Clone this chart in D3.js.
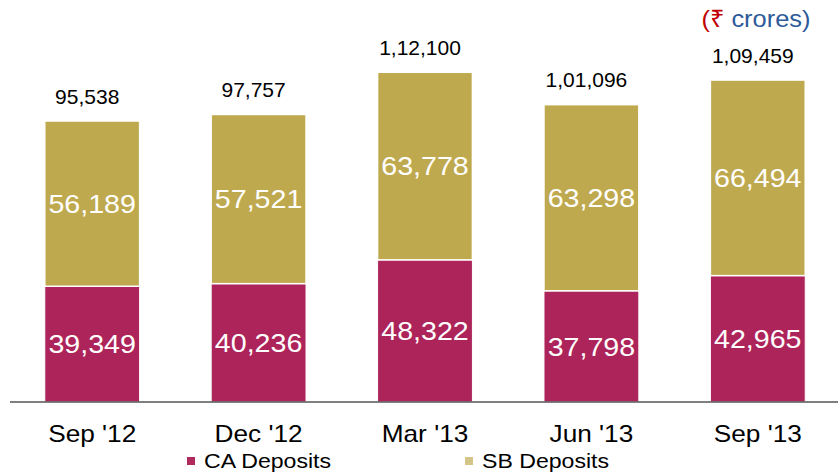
<!DOCTYPE html>
<html>
<head>
<script src="https://d3js.org/d3.v7.min.js"></script>
<style>
  body, html { margin: 0; background: #fff; }
  text { font-family: "Liberation Sans", Arial, sans-serif; }
</style>
</head>
<body>
<div id="chart"></div>
<script>
var categories = ["Sep '12", "Dec '12", "Mar '13", "Jun '13", "Sep '13"];
var caDeposits = [39349, 40236, 48322, 37798, 42965];
var sbDeposits = [56189, 57521, 63778, 63298, 66494];
var totals = ["95,538", "97,757", "1,12,100", "1,01,096", "1,09,459"];

var width = 838, height = 476;
var baseY = 402;

var svg = d3.select("#chart").append("svg")
  .attr("width", width)
  .attr("height", height);

var x = d3.scaleBand()
  .domain(categories)
  .range([9, 841])
  .paddingInner(0.43)
  .paddingOuter(0.215);

var y = d3.scaleLinear()
  .domain([0, 95538])
  .range([baseY, 121]);

var fmt = d3.format(",");

var rows = categories.map(function(c, i) {
  return { cat: c, ca: caDeposits[i], sb: sbDeposits[i], total: totals[i] };
});

// text in the original is a bit wider than plain Arial, so stretch it a little
function place(px, py, sx) {
  return "translate(" + px + "," + py + ") scale(" + sx + ",1)";
}

// CA segment
svg.append("g").selectAll("rect")
  .data(rows).enter().append("rect")
    .attr("x", d => x(d.cat))
    .attr("y", d => y(d.ca))
    .attr("width", x.bandwidth())
    .attr("height", d => baseY - y(d.ca))
    .attr("fill", "#ad245a")
    .attr("stroke", "#fff")
    .attr("stroke-width", 1);

// SB segment
svg.append("g").selectAll("rect")
  .data(rows).enter().append("rect")
    .attr("x", d => x(d.cat))
    .attr("y", d => y(d.ca + d.sb))
    .attr("width", x.bandwidth())
    .attr("height", d => y(d.ca) - y(d.ca + d.sb))
    .attr("fill", "#bfa94f")
    .attr("stroke", "#fff")
    .attr("stroke-width", 1.5);

// segment labels
svg.append("g").selectAll("text")
  .data(rows).enter().append("text")
    .attr("transform", d => place(x(d.cat) + x.bandwidth() / 2, (y(d.ca) + baseY) / 2, 1.1))
    .attr("dy", "0.36em")
    .attr("text-anchor", "middle")
    .attr("fill", "#fff")
    .style("font-size", "26px")
    .text(d => fmt(d.ca));

svg.append("g").selectAll("text")
  .data(rows).enter().append("text")
    .attr("transform", d => place(x(d.cat) + x.bandwidth() / 2, (y(d.ca) + y(d.ca + d.sb)) / 2, 1.1))
    .attr("dy", "0.36em")
    .attr("text-anchor", "middle")
    .attr("fill", "#fff")
    .style("font-size", "26px")
    .text(d => fmt(d.sb));

// totals
svg.append("g").selectAll("text")
  .data(rows).enter().append("text")
    .attr("x", d => x(d.cat) + x.bandwidth() / 2 - 5)
    .attr("y", d => y(d.ca + d.sb) - 25)
    .attr("dy", "0.36em")
    .attr("text-anchor", "middle")
    .attr("fill", "#000")
    .style("font-size", "21px")
    .text(d => d.total);

// axis
var axis = svg.append("g")
  .attr("transform", "translate(0," + baseY + ")")
  .call(d3.axisBottom(x).tickSize(0).tickPadding(0));
axis.select(".domain").remove();
axis.append("line")
  .attr("x1", 10).attr("x2", 838)
  .attr("stroke", "#555").attr("stroke-width", 1.5);
axis.selectAll(".tick text")
  .attr("y", null).attr("dy", null)
  .attr("transform", place(0, 40, 1.14))
  .attr("fill", "#000")
  .style("font-size", "23px")
  .style("font-family", "'Liberation Sans', Arial, sans-serif");

// unit label
var unit = svg.append("text")
  .attr("transform", place(756, 27, 1.06))
  .attr("text-anchor", "middle")
  .style("font-size", "24px");
unit.append("tspan").attr("fill", "#c00000").text("(\u20b9 ");
unit.append("tspan").attr("fill", "#2e5a9a").text("crores");
unit.append("tspan").attr("fill", "#2e5a9a").text(")");

// legend
var legendItems = [
  { name: "CA Deposits", color: "#b02a5e", x: 187 },
  { name: "SB Deposits", color: "#d3c48a", x: 465 }
];
var lg = svg.append("g").selectAll("g")
  .data(legendItems).enter().append("g")
  .attr("transform", d => "translate(" + d.x + ",461)");
lg.append("rect")
  .attr("x", 0).attr("y", -4)
  .attr("width", 8).attr("height", 8)
  .attr("fill", d => d.color);
lg.append("text")
  .attr("transform", place(17, 7, 1.1))
  .style("font-size", "21px")
  .attr("fill", "#000")
  .text(d => d.name);
</script>
</body>
</html>
